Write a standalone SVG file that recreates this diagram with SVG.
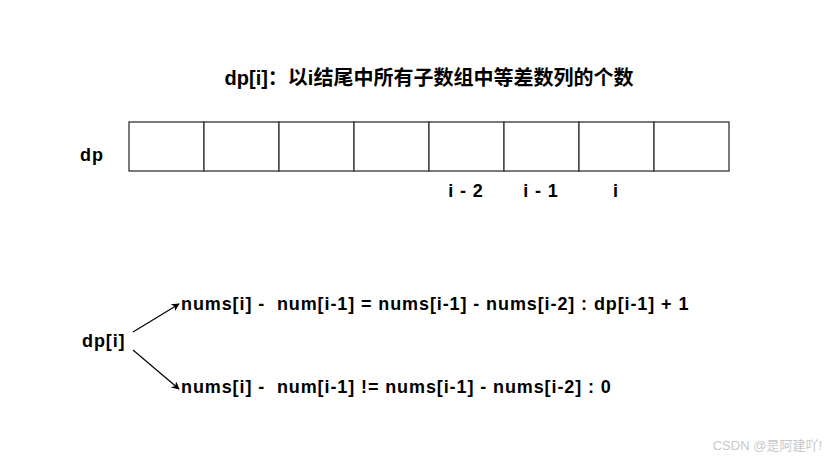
<svg xmlns="http://www.w3.org/2000/svg" width="837" height="460" viewBox="0 0 837 460">
<style>
text{font-family:"Liberation Sans","Noto Sans CJK SC",Arial,sans-serif;font-weight:bold;fill:#000;white-space:pre}
.t{font-size:18px;letter-spacing:0.9px}
.cell{fill:#fff;stroke:#333;stroke-width:1.3}
.c{stroke:#000;stroke-width:1.2;fill:none;marker-end:url(#ah)}
</style>
<defs>
<marker id="ah" viewBox="0 0 10 10" refX="9" refY="5" markerWidth="8" markerHeight="8" orient="auto" markerUnits="userSpaceOnUse">
<path d="M0,0 L10,5 L0,10 L3,5 Z" fill="#000"/>
</marker>
</defs>
<rect width="837" height="460" fill="#fff"/>
<g id="title"><text x="429" y="85" text-anchor="middle" style="font-size:20px">dp[i]：以i结尾中所有子数组中等差数列的个数</text></g>
<g id="dp-label"><text class="t" x="80" y="161">dp</text></g>
<g id="dp-array">
<rect class="cell" x="129" y="122" width="75" height="49"/>
<rect class="cell" x="204" y="122" width="75" height="49"/>
<rect class="cell" x="279" y="122" width="75" height="49"/>
<rect class="cell" x="354" y="122" width="75" height="49"/>
<rect class="cell" x="429" y="122" width="75" height="49"/>
<rect class="cell" x="504" y="122" width="75" height="49"/>
<rect class="cell" x="579" y="122" width="75" height="49"/>
<rect class="cell" x="654" y="122" width="75" height="49"/>
</g>
<g id="idx-labels">
<text class="t" x="466" y="197" text-anchor="middle">i - 2</text>
<text class="t" x="541" y="197" text-anchor="middle">i - 1</text>
<text class="t" x="616" y="197" text-anchor="middle">i</text>
</g>
<g id="dpi"><text class="t" x="82" y="347">dp[i]</text></g>
<g id="case1"><text class="t" x="181" y="310">nums[i] -  num[i-1] = nums[i-1] - nums[i-2] : dp[i-1] + 1</text></g>
<g id="case2"><text class="t" x="181" y="393">nums[i] -  num[i-1] != nums[i-1] - nums[i-2] : 0</text></g>
<g id="connectors">
<path class="c" d="M133,332 L179,304"/>
<path class="c" d="M133,350 L179,389"/>
</g>
<text x="822" y="450" text-anchor="end" style="font-size:13px;font-weight:normal;fill:#c8c8c8">CSDN @是阿建吖!</text>
</svg>
